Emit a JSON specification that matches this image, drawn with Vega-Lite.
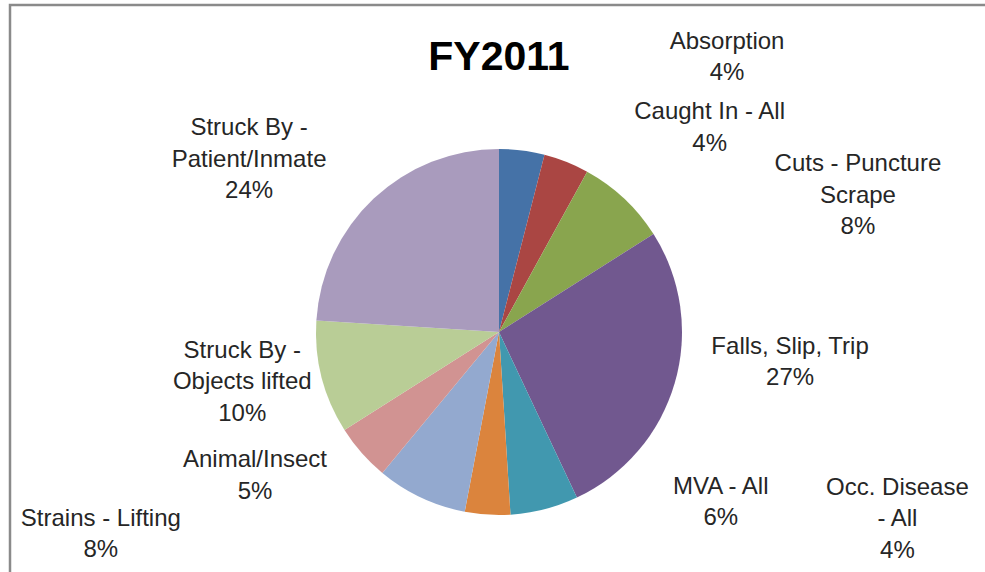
{
  "$schema": "https://vega.github.io/schema/vega-lite/v6.json",
  "width": 978,
  "height": 654,
  "autosize": {"type": "none"},
  "padding": {"left": 10, "top": 5, "right": 0, "bottom": 0},
  "background": "white",
  "view": {"stroke": "#8a8a8a", "strokeWidth": 2.5},
  "title": {"text": "FY2011", "font": "Liberation Sans", "fontSize": 41, "fontWeight": "bold", "color": "#000000", "anchor": "middle", "baseline": "alphabetic", "offset": -68, "dy": 41},
  "config": {
    "view": {"stroke": "#8a8a8a", "strokeWidth": 2.5},
    "text": {"font": "Liberation Sans", "fontSize": 24, "color": "#262626", "lineBreak": "\n", "lineHeight": 31.5, "align": "center", "baseline": "middle"}
  },
  "data": {
    "values": [
      {"category": "Absorption", "value": 4},
      {"category": "Caught In - All", "value": 4},
      {"category": "Cuts - Puncture\nScrape", "value": 8},
      {"category": "Falls, Slip, Trip", "value": 27},
      {"category": "MVA - All", "value": 6},
      {"category": "Occ. Disease\n- All", "value": 4},
      {"category": "Strains - Lifting", "value": 8},
      {"category": "Animal/Insect", "value": 5},
      {"category": "Struck By -\nObjects lifted", "value": 10},
      {"category": "Struck By -\nPatient/Inmate", "value": 24}
    ]
  },
  "transform": [
    {"window": [{"op": "row_number", "as": "idx"}]},
    {"calculate": "datum.category + '\\n' + datum.value + '%'", "as": "label"}
  ],
  "encoding": {
    "theta": {"field": "value", "type": "quantitative", "stack": true},
    "order": {"field": "idx", "type": "quantitative"},
    "detail": {"field": "category", "type": "nominal"}
  },
  "layer": [
    {
      "mark": {"type": "point", "opacity": 0},
      "encoding": {
        "theta": null,
        "x": {"field": "value", "type": "quantitative", "axis": null},
        "y": {"field": "idx", "type": "quantitative", "axis": null}
      }
    },
    {
      "mark": {"type": "arc", "radius": 183},
      "encoding": {
        "color": {
          "field": "category", "type": "nominal", "legend": null,
          "scale": {
            "domain": ["Absorption", "Caught In - All", "Cuts - Puncture\nScrape", "Falls, Slip, Trip", "MVA - All", "Occ. Disease\n- All", "Strains - Lifting", "Animal/Insect", "Struck By -\nObjects lifted", "Struck By -\nPatient/Inmate"],
            "range": ["#4572A7", "#AA4643", "#89A54E", "#71588F", "#4198AF", "#DB843D", "#93A9CF", "#D19392", "#B9CD96", "#A99BBD"]
          }
        }
      }
    },
    {"mark": {"type": "text", "radius": 200, "dx": 203, "dy": -92}, "encoding": {"text": {"condition": {"test": "datum.idx === 1", "field": "label", "type": "nominal"}, "value": ""}}},
    {"mark": {"type": "text", "radius": 200, "dx": 137, "dy": -34}, "encoding": {"text": {"condition": {"test": "datum.idx === 2", "field": "label", "type": "nominal"}, "value": ""}}},
    {"mark": {"type": "text", "radius": 200, "dx": 222, "dy": -22}, "encoding": {"text": {"condition": {"test": "datum.idx === 3", "field": "label", "type": "nominal"}, "value": ""}}},
    {"mark": {"type": "text", "radius": 200, "dx": 99, "dy": -41}, "encoding": {"text": {"condition": {"test": "datum.idx === 4", "field": "label", "type": "nominal"}, "value": ""}}},
    {"mark": {"type": "text", "radius": 200, "dx": 172, "dy": -39}, "encoding": {"text": {"condition": {"test": "datum.idx === 5", "field": "label", "type": "nominal"}, "value": ""}}},
    {"mark": {"type": "text", "radius": 200, "dx": 411, "dy": -44}, "encoding": {"text": {"condition": {"test": "datum.idx === 6", "field": "label", "type": "nominal"}, "value": ""}}},
    {"mark": {"type": "text", "radius": 200, "dx": -313, "dy": 6}, "encoding": {"text": {"condition": {"test": "datum.idx === 7", "field": "label", "type": "nominal"}, "value": ""}}},
    {"mark": {"type": "text", "radius": 200, "dx": -94, "dy": -4}, "encoding": {"text": {"condition": {"test": "datum.idx === 8", "field": "label", "type": "nominal"}, "value": ""}}},
    {"mark": {"type": "text", "radius": 200, "dx": -63, "dy": -31}, "encoding": {"text": {"condition": {"test": "datum.idx === 9", "field": "label", "type": "nominal"}, "value": ""}}},
    {"mark": {"type": "text", "radius": 200, "dx": -113, "dy": -58}, "encoding": {"text": {"condition": {"test": "datum.idx === 10", "field": "label", "type": "nominal"}, "value": ""}}}
  ]
}
